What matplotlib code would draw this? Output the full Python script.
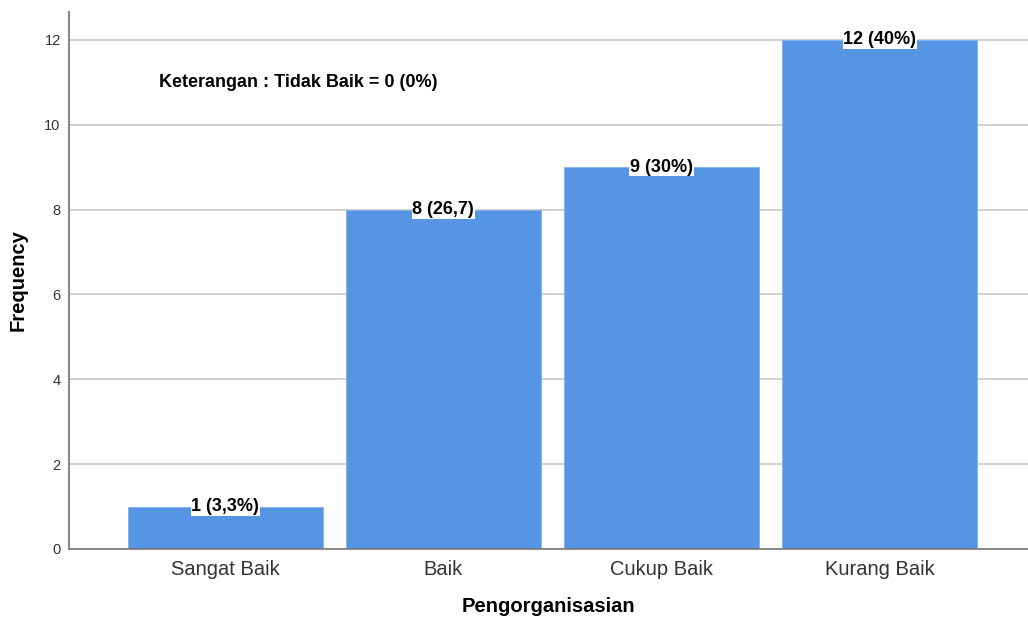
import matplotlib
matplotlib.use("Agg")
import matplotlib.pyplot as plt

plt.rcParams['font.family'] = ['Liberation Sans', 'DejaVu Sans']

categories = ["Sangat Baik", "Baik", "Cukup Baik", "Kurang Baik"]
counts = [1, 8, 9, 12]
bar_labels = ["1 (3,3%)", "8 (26,7)", "9 (30%)", "12 (40%)"]
yticks = [0, 2, 4, 6, 8, 10, 12]
note = "Keterangan : Tidak Baik = 0 (0%)"

fig = plt.figure(figsize=(10.28, 6.22), dpi=100)
ax = fig.add_axes([69 / 1028, (622 - 549) / 622, (1028 - 69) / 1028, (549 - 12) / 622])

x = list(range(len(categories)))
ax.bar(x, counts, width=0.895, color="#5694E4", edgecolor="#7FB0EE", linewidth=0.6, zorder=2)

for xi, c, lab in zip(x, counts, bar_labels):
    ax.text(xi, c, lab, ha="center", va="center", fontsize=13, fontweight="bold",
            bbox=dict(facecolor="white", edgecolor="none", pad=0.4), zorder=3)

ax.text(-0.303, 11.0, note, ha="left", va="center", fontsize=13, fontweight="bold")

ax.set_xlim(-0.716, 3.68)
ax.set_ylim(0, 12.66)
ax.set_yticks(yticks)
ax.set_xticks(x)
ax.set_xticklabels(categories, fontsize=14.5, color="#333333")
ax.tick_params(axis="y", labelsize=10.5, colors="#333333", length=0, pad=6)
ax.tick_params(axis="x", length=0, pad=8)
ax.yaxis.grid(True, color="#C8C8C8", linewidth=1.2, zorder=0)
ax.set_axisbelow(True)

for s in ["top", "right"]:
    ax.spines[s].set_visible(False)
ax.spines["left"].set_color("#888888")
ax.spines["left"].set_linewidth(1.5)
ax.spines["bottom"].set_color("#777777")
ax.spines["bottom"].set_linewidth(1.2)

ax.set_ylabel("Frequency", fontsize=14.5, fontweight="bold", labelpad=12)
ax.set_xlabel("Pengorganisasian", fontsize=14.5, fontweight="bold", labelpad=13)

fig.savefig("out.png", dpi=100)
